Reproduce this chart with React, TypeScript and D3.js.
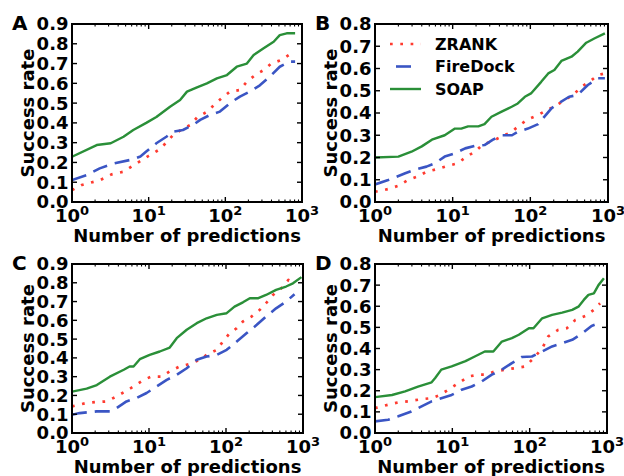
import React from "react";
import * as d3 from "d3";

// ---------- data ----------
const seriesNames = ["ZRANK", "FireDock", "SOAP"];
const panelLetters = ["A", "B", "C", "D"];
const xTickValues = [1, 10, 100, 1000];
const xTickExponents = ["0", "1", "2", "3"];
const yTicks09 = [0, 0.1, 0.2, 0.3, 0.4, 0.5, 0.6, 0.7, 0.8, 0.9];
const yTicks08 = [0, 0.1, 0.2, 0.3, 0.4, 0.5, 0.6, 0.7, 0.8];
const xLabel = "Number of predictions";
const yLabel = "Success rate";

// Panel A
const aZrankN = [1, 1.34, 2.3, 3.3, 4.7, 6.0, 7.8, 10, 13.5, 17, 21, 27, 35, 43, 58, 69, 89, 115, 155, 191, 245, 316, 398, 537, 692, 813];
const aZrankV = [0.06, 0.086, 0.11, 0.14, 0.153, 0.18, 0.207, 0.233, 0.263, 0.3, 0.34, 0.367, 0.39, 0.428, 0.457, 0.485, 0.524, 0.558, 0.566, 0.608, 0.642, 0.667, 0.7, 0.718, 0.747, 0.75];
const aFireN = [1, 1.55, 2.3, 3.5, 6.3, 7.8, 9.3, 12.6, 17, 21, 28, 38, 47, 63, 85, 115, 155, 209, 282, 380, 513, 692, 813];
const aFireV = [0.111, 0.136, 0.17, 0.195, 0.216, 0.23, 0.255, 0.297, 0.33, 0.356, 0.364, 0.39, 0.415, 0.44, 0.457, 0.5, 0.533, 0.558, 0.59, 0.634, 0.684, 0.71, 0.71];
const aSoapN = [1, 2.1, 3.2, 4.7, 6.3, 9.3, 12.6, 19, 25.7, 31.6, 42.7, 57.5, 77.6, 105, 141, 191, 234, 316, 427, 513, 631, 813];
const aSoapV = [0.229, 0.288, 0.297, 0.33, 0.364, 0.4, 0.43, 0.482, 0.516, 0.558, 0.58, 0.6, 0.625, 0.642, 0.684, 0.7, 0.743, 0.777, 0.81, 0.844, 0.853, 0.853];

// Panel B
const bZrankN = [1, 1.48, 2, 2.7, 3.5, 4.6, 6.2, 8.7, 11.7, 15, 19.5, 23.4, 33, 43, 58, 69, 93, 126, 162, 204, 275, 355, 457, 575, 741, 912];
const bZrankV = [0.046, 0.058, 0.073, 0.1, 0.114, 0.136, 0.147, 0.163, 0.174, 0.204, 0.226, 0.253, 0.276, 0.294, 0.316, 0.339, 0.372, 0.391, 0.413, 0.428, 0.458, 0.481, 0.518, 0.54, 0.57, 0.578];
const bFireN = [1, 1.48, 2.45, 3.2, 4.6, 5.9, 7.9, 10.7, 14.5, 19.5, 25.7, 33, 43, 58, 69, 93, 126, 186, 229, 316, 407, 550, 741, 912];
const bFireV = [0.079, 0.099, 0.129, 0.144, 0.159, 0.174, 0.204, 0.219, 0.241, 0.253, 0.256, 0.28, 0.3, 0.3, 0.316, 0.33, 0.35, 0.42, 0.443, 0.473, 0.481, 0.526, 0.556, 0.556];
const bSoapN = [1, 2, 2.95, 4, 5.4, 7.9, 10.7, 12.9, 15.8, 21.4, 25.7, 31.6, 42.7, 57.5, 69, 85, 102, 138, 170, 204, 251, 339, 407, 525, 676, 912];
const bSoapV = [0.2, 0.204, 0.226, 0.25, 0.28, 0.3, 0.33, 0.33, 0.34, 0.34, 0.35, 0.383, 0.406, 0.428, 0.443, 0.473, 0.488, 0.54, 0.578, 0.593, 0.634, 0.653, 0.676, 0.716, 0.736, 0.758];

// Panel C
const cZrankN = [1, 1.55, 2.1, 2.8, 3.8, 4.9, 6.3, 8.5, 10.7, 14.5, 18.6, 25, 34, 46, 56, 76, 91, 112, 138, 166, 214, 275, 331, 407, 525, 646, 741];
const cZrankV = [0.142, 0.16, 0.165, 0.168, 0.195, 0.221, 0.248, 0.283, 0.3, 0.3, 0.328, 0.354, 0.368, 0.39, 0.416, 0.443, 0.487, 0.532, 0.558, 0.594, 0.62, 0.656, 0.691, 0.735, 0.771, 0.815, 0.8];
const cFireN = [1, 1.26, 2.1, 3.1, 3.8, 5.1, 6.9, 9.3, 12.6, 17, 22.9, 30.9, 41.7, 56, 76, 102, 138, 186, 251, 331, 447, 603, 776];
const cFireV = [0.097, 0.106, 0.115, 0.115, 0.133, 0.168, 0.186, 0.213, 0.248, 0.283, 0.31, 0.345, 0.39, 0.407, 0.416, 0.443, 0.487, 0.532, 0.576, 0.62, 0.664, 0.7, 0.739];
const cSoapN = [1, 1.55, 2.1, 3.1, 4.7, 5.6, 6.3, 7.6, 10.2, 13.8, 18.6, 22.9, 30.9, 41.7, 56, 76, 102, 129, 166, 204, 263, 331, 447, 603, 741, 955];
const cSoapV = [0.22, 0.236, 0.255, 0.3, 0.337, 0.354, 0.354, 0.393, 0.416, 0.434, 0.455, 0.505, 0.55, 0.585, 0.611, 0.629, 0.638, 0.673, 0.696, 0.718, 0.718, 0.735, 0.762, 0.78, 0.797, 0.83];

// Panel D
const dZrankN = [1, 1.48, 2, 2.7, 4, 5.4, 6.9, 8.9, 12, 16.2, 21.9, 26.3, 35.5, 47.9, 64.6, 87, 107, 145, 174, 234, 302, 389, 525, 676, 813];
const dZrankV = [0.118, 0.134, 0.145, 0.15, 0.16, 0.165, 0.18, 0.205, 0.236, 0.268, 0.276, 0.276, 0.291, 0.3, 0.307, 0.315, 0.346, 0.4, 0.457, 0.488, 0.496, 0.535, 0.554, 0.583, 0.614];
const dFireN = [1, 1.48, 2, 2.95, 4, 5.4, 7.2, 9.8, 13.2, 17.8, 24, 32.4, 43.7, 58.9, 79.4, 107, 145, 195, 263, 355, 479, 631, 692];
const dFireV = [0.055, 0.063, 0.079, 0.102, 0.126, 0.15, 0.165, 0.18, 0.205, 0.22, 0.244, 0.276, 0.3, 0.331, 0.36, 0.362, 0.386, 0.41, 0.425, 0.441, 0.472, 0.507, 0.512];
const dSoapN = [1, 1.66, 2.45, 3.6, 5.4, 6.0, 7.2, 9.8, 14.8, 19.5, 26.3, 33.9, 43.7, 58.9, 72.4, 97.7, 112, 145, 195, 263, 355, 427, 501, 575, 676, 776, 912];
const dSoapV = [0.17, 0.18, 0.197, 0.22, 0.24, 0.26, 0.3, 0.315, 0.34, 0.362, 0.386, 0.386, 0.433, 0.449, 0.465, 0.496, 0.496, 0.543, 0.559, 0.57, 0.583, 0.598, 0.63, 0.654, 0.661, 0.7, 0.732];

// ---------- styles ----------
const FONT = "'DejaVu Sans', sans-serif";
const seriesStyles = [
  { stroke: "#ff3b30", width: 2.7, dash: "2.7 7.6" },
  { stroke: "#3a55c4", width: 2.6, dash: "15 8" },
  { stroke: "#2a8f38", width: 2.4, dash: "none" },
];

type PanelProps = {
  letter: string;
  left: number; right: number; top: number; bottom: number;
  yMax: number; yTicks: number[];
  xs: number[][]; ys: number[][];
  legend?: boolean;
};

function Panel(p: PanelProps) {
  const x = d3.scaleLog().domain([1, 1000]).range([p.left, p.right]);
  const y = d3.scaleLinear().domain([0, p.yMax]).range([p.bottom, p.top]);
  const line = d3.line<[number, number]>().x((d) => x(d[0])).y((d) => y(d[1]));
  const minor: number[] = [];
  [1, 10, 100].forEach((dec) => { for (let k = 2; k <= 9; k++) minor.push(dec * k); });
  const clipId = "clip" + p.letter;
  const fmt = d3.format(".1f");
  const cx = (p.left + p.right) / 2;
  const cy = (p.top + p.bottom) / 2;
  return (
    <g>
      <defs>
        <clipPath id={clipId}>
          <rect x={p.left} y={p.top} width={p.right - p.left} height={p.bottom - p.top} />
        </clipPath>
      </defs>
      <g clipPath={`url(#${clipId})`}>
        {p.xs.map((xs, i) => (
          <path
            key={i}
            d={line(xs.map((v, j) => [v, p.ys[i][j]] as [number, number])) || ""}
            fill="none"
            stroke={seriesStyles[i].stroke}
            strokeWidth={seriesStyles[i].width}
            strokeDasharray={seriesStyles[i].dash}
            strokeLinejoin="round"
          />
        ))}
      </g>
      {/* ticks */}
      {p.yTicks.map((t) => (
        <g key={"y" + t}>
          <line x1={p.left} x2={p.left + 5} y1={y(t)} y2={y(t)} stroke="#000" strokeWidth={1.4} />
          <line x1={p.right} x2={p.right - 5} y1={y(t)} y2={y(t)} stroke="#000" strokeWidth={1.4} />
          <text x={p.left - 3.5} y={y(t)} dy="0.36em" textAnchor="end" fontFamily={FONT} fontWeight="bold" fontSize={18}>
            {fmt(t)}
          </text>
        </g>
      ))}
      {xTickValues.map((t, i) => (
        <g key={"x" + t}>
          <line x1={x(t)} x2={x(t)} y1={p.bottom} y2={p.bottom - 5} stroke="#000" strokeWidth={1.4} />
          <line x1={x(t)} x2={x(t)} y1={p.top} y2={p.top + 5} stroke="#000" strokeWidth={1.4} />
          <text x={x(t)} y={p.bottom + 20} textAnchor="middle" fontFamily={FONT} fontWeight="bold" fontSize={18}>
            10<tspan fontSize={13} dy={-7}>{xTickExponents[i]}</tspan>
          </text>
        </g>
      ))}
      {minor.map((t) => (
        <g key={"m" + t}>
          <line x1={x(t)} x2={x(t)} y1={p.bottom} y2={p.bottom - 2.5} stroke="#000" strokeWidth={1.1} />
          <line x1={x(t)} x2={x(t)} y1={p.top} y2={p.top + 2.5} stroke="#000" strokeWidth={1.1} />
        </g>
      ))}
      <rect x={p.left} y={p.top} width={p.right - p.left} height={p.bottom - p.top} fill="none" stroke="#000" strokeWidth={2} />
      <text x={cx} y={p.bottom + 40} textAnchor="middle" fontFamily={FONT} fontWeight="bold" fontSize={18}>
        {xLabel}
      </text>
      <text transform={`translate(${p.left - 38},${cy}) rotate(-90)`} textAnchor="middle" fontFamily={FONT} fontWeight="bold" fontSize={18}>
        {yLabel}
      </text>
      <text x={p.left - 60} y={p.top + 6} fontFamily={FONT} fontWeight="bold" fontSize={20}>
        {p.letter}
      </text>
      {p.legend && (
        <g>
          {seriesNames.map((name, i) => {
            const ly = p.top + 20 + i * 22.5;
            const x1 = i === 1 ? p.left + 21 : p.left + 15;
            const x2 = i === 1 ? p.left + 37 : p.left + 46;
            return (
              <g key={name}>
                <line x1={x1} x2={x2} y1={ly} y2={ly} stroke={seriesStyles[i].stroke} strokeWidth={seriesStyles[i].width} strokeDasharray={seriesStyles[i].dash} />
                <text x={p.left + 60} y={ly} dy="0.36em" fontFamily={FONT} fontWeight="bold" fontSize={16}>
                  {name}
                </text>
              </g>
            );
          })}
        </g>
      )}
    </g>
  );
}

export default function App() {
  return (
    <svg width={624} height={476} style={{ position: "absolute", left: 0, top: 0, background: "#fff" }}>
      <rect x={0} y={0} width={624} height={476} fill="#fff" />
      <Panel letter={panelLetters[0]} left={72} right={302} top={24} bottom={202} yMax={0.9} yTicks={yTicks09}
        xs={[aZrankN, aFireN, aSoapN]} ys={[aZrankV, aFireV, aSoapV]} />
      <Panel letter={panelLetters[1]} left={375} right={608} top={24} bottom={202} yMax={0.8} yTicks={yTicks08}
        xs={[bZrankN, bFireN, bSoapN]} ys={[bZrankV, bFireV, bSoapV]} legend />
      <Panel letter={panelLetters[2]} left={72} right={303} top={264} bottom={433} yMax={0.9} yTicks={yTicks09}
        xs={[cZrankN, cFireN, cSoapN]} ys={[cZrankV, cFireV, cSoapV]} />
      <Panel letter={panelLetters[3]} left={375} right={607} top={264} bottom={433} yMax={0.8} yTicks={yTicks08}
        xs={[dZrankN, dFireN, dSoapN]} ys={[dZrankV, dFireV, dSoapV]} />
    </svg>
  );
}
